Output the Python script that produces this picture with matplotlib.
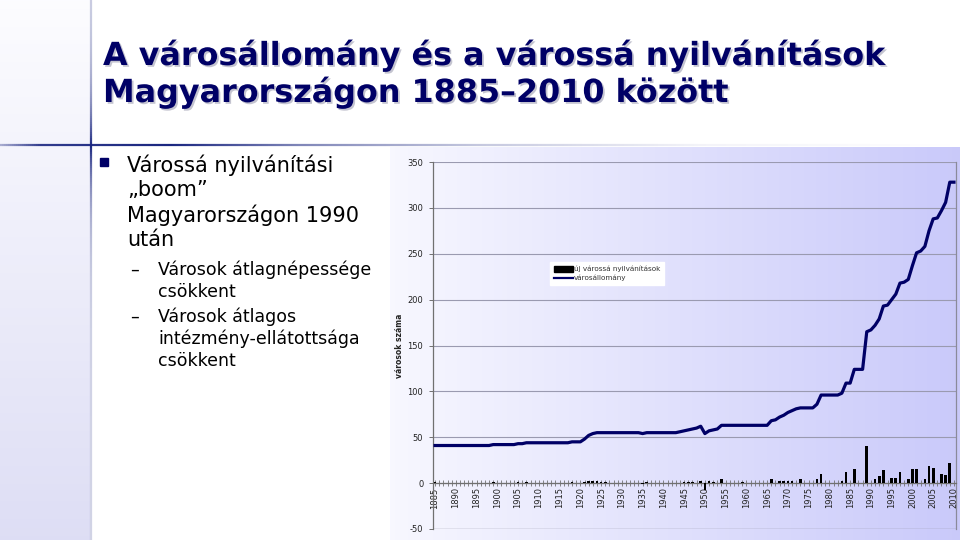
import matplotlib
matplotlib.use("Agg")
import matplotlib.pyplot as plt
import numpy as np
import matplotlib.patheffects as pe
from matplotlib.lines import Line2D
from matplotlib.patches import Patch, Rectangle
from matplotlib.collections import LineCollection

plt.rcParams["axes.unicode_minus"] = False

# ---------------- data ----------------
years = list(range(1885, 2011))

# new town declarations per year (új várossá nyilvánítások)
uj_varosok = [
    1, 0, 0, 0, 0, 0, 0, 0, 0, 0,      # 1885-1894
    0, 0, 0, 0, 1, 0, 0, 0, 0, 0,      # 1895-1904
    1, 0, 1, 0, 0, 0, 0, 0, 0, 0,      # 1905-1914
    0, 0, 0, 1, 0, 0, 1, 2, 2, 2,      # 1915-1924
    1, 1, 0, 0, 0, 0, 0, 0, 0, 0,      # 1925-1934
    -1, 1, 0, 0, 0, 0, 0, 0, 0, 0,     # 1935-1944
    1, 1, 1, 0, 2, -8, 2, 1, 0, 4,     # 1945-1954
    0, 0, 0, 0, 1, 0, 0, 0, 0, 0,      # 1955-1964
    0, 5, 0, 2, 2, 2, 2, 0, 4, 0,      # 1965-1974
    0, 0, 4, 10, 0, 0, 0, 0, 2, 12,    # 1975-1984
    0, 15, 0, 0, 41, 0, 5, 8, 14, 0,   # 1985-1994
    6, 6, 12, 0, 5, 15, 15, 0, 5, 19,  # 1995-2004
    16, 0, 10, 9, 22, 0,               # 2005-2010
]

# town stock (városállomány)
varosallomany = [
    41, 41, 41, 41, 41, 41, 41, 41, 41, 41,            # 1885-1894
    41, 41, 41, 41, 42, 42, 42, 42, 42, 42,            # 1895-1904
    43, 43, 44, 44, 44, 44, 44, 44, 44, 44,            # 1905-1914
    44, 44, 44, 45, 45, 45, 48, 52, 54, 55,            # 1915-1924
    55, 55, 55, 55, 55, 55, 55, 55, 55, 55,            # 1925-1934
    54, 55, 55, 55, 55, 55, 55, 55, 55, 56,            # 1935-1944
    57, 58, 59, 60, 62, 54, 57, 58, 59, 63,            # 1945-1954
    63, 63, 63, 63, 63, 63, 63, 63, 63, 63,            # 1955-1964
    63, 68, 69, 72, 74, 77, 79, 81, 82, 82,            # 1965-1974
    82, 82, 86, 96, 96, 96, 96, 96, 98, 109,           # 1975-1984
    109, 124, 124, 124, 165, 167, 172, 179, 193, 194,  # 1985-1994
    200, 206, 218, 219, 222, 237, 251, 253, 258, 275,  # 1995-2004
    288, 289, 297, 306, 328, 328,                      # 2005-2010
]

y_ticks = [-50, 0, 50, 100, 150, 200, 250, 300, 350]
x_label_years = [1885, 1890, 1895, 1900, 1905, 1910, 1915, 1920, 1925, 1930,
                 1935, 1940, 1945, 1950, 1955, 1960, 1965, 1970, 1975, 1980,
                 1985, 1990, 1995, 2000, 2005, 2010]

legend_labels = ["új várossá nyilvánítások", "városállomány"]
y_axis_title = "városok száma"
title_lines = ["A városállomány és a várossá nyilvánítások",
               "Magyarországon 1885–2010 között"]
bullet_main = ["Várossá nyilvánítási", "„boom”", "Magyarországon 1990", "után"]
sub_bullets = [["Városok átlagnépessége", "csökkent"],
               ["Városok átlagos", "intézmény-ellátottsága", "csökkent"]]

NAVY = "#000066"

# ---------------- figure ----------------
fig = plt.figure(figsize=(9.6, 5.4), dpi=100)
fig.patch.set_facecolor("white")

bg = fig.add_axes([0, 0, 1, 1], zorder=0)
bg.set_xlim(0, 960)
bg.set_ylim(540, 0)
bg.axis("off")

# left strip gradient
t = np.linspace(0, 1, 256)
top_c = np.array([0.99, 0.99, 1.0])
bot_c = np.array([0.87, 0.87, 0.96])
strip = top_c[None, None, :] * (1 - t[:, None, None]) + bot_c[None, None, :] * t[:, None, None]
bg.imshow(strip, extent=[0, 90, 540, 0], aspect="auto", interpolation="bilinear", zorder=0)

# chart area gradient
c0 = np.array([0.97, 0.97, 1.0])
c1 = np.array([0.79, 0.79, 0.98])
chart_bg = c0[None, None, :] * (1 - t[None, :, None]) + c1[None, None, :] * t[None, :, None]
bg.imshow(chart_bg, extent=[390, 960, 540, 147], aspect="auto", interpolation="bilinear", zorder=0)

# decorative vertical line
vy = np.arange(0, 541, 2)
vsegs = [[(91, vy[i]), (91, vy[i + 1])] for i in range(len(vy) - 1)]
va = 0.2 + 0.8 * np.exp(-np.abs(vy[:-1] - 145) / 45.0)
vcols = [(0.1, 0.15, 0.5, a) for a in va]
bg.add_collection(LineCollection(vsegs, colors=vcols, linewidths=1.6, zorder=2))

# decorative horizontal line
hx = np.arange(0, 961, 2)
hsegs = [[(hx[i], 145), (hx[i + 1], 145)] for i in range(len(hx) - 1)]
ha = np.interp(hx[:-1], [0, 40, 170, 300, 480, 700, 960], [0.35, 0.9, 1.0, 0.55, 0.25, 0.05, 0.0])
hcols = [(0.1, 0.15, 0.5, a) for a in ha]
bg.add_collection(LineCollection(hsegs, colors=hcols, linewidths=1.6, zorder=2))

# title
shadow = [pe.withSimplePatchShadow(offset=(1.3, -1.3), shadow_rgbFace="#c4c4d0", alpha=1.0)]
for i, line in enumerate(title_lines):
    bg.text(103, 65 + i * 37, line, fontsize=22.9, fontweight="bold", color=NAVY,
            family="DejaVu Sans", va="baseline", ha="left", path_effects=shadow, zorder=3)

# bullet text
bg.add_patch(Rectangle((100, 158), 8, 8, color=NAVY, zorder=3))
for i, line in enumerate(bullet_main):
    bg.text(127, 171.5 + i * 25, line, fontsize=15, color="black", family="DejaVu Sans",
            va="baseline", ha="left", zorder=3)
sub_base = [[275, 297], [322, 344, 366]]
for grp, bases in zip(sub_bullets, sub_base):
    bg.text(130, bases[0], "–", fontsize=12.5, color="black", family="DejaVu Sans",
            va="baseline", ha="left", zorder=3)
    for line, b in zip(grp, bases):
        bg.text(158, b, line, fontsize=12.5, color="black", family="DejaVu Sans",
                va="baseline", ha="left", zorder=3)

# ---------------- chart ----------------
ax = fig.add_axes([433 / 960, 11 / 540, 523 / 960, 367 / 540], zorder=1)
ax.set_facecolor("none")
ax.set_xlim(1884.5, 2010.5)
ax.set_ylim(-50, 350)

ax.set_yticks(y_ticks)
ax.yaxis.grid(True, color="#9a9ab0", linewidth=0.8)
ax.set_axisbelow(True)

ax.bar(years, uj_varosok, width=0.65, color="black", zorder=3)
ax.plot(years, varosallomany, color=NAVY, linewidth=2.3, zorder=4, solid_joinstyle="round")

ax.axhline(-50, color="#8a8a9a", linewidth=0.9, zorder=2)
ax.spines["top"].set_visible(False)
ax.spines["right"].set_color("#8a8a9a")
ax.spines["right"].set_linewidth(0.9)
ax.spines["left"].set_color("#707070")
ax.spines["left"].set_linewidth(0.9)
ax.spines["bottom"].set_position(("data", 0))
ax.spines["bottom"].set_color("#707070")
ax.spines["bottom"].set_linewidth(0.9)

ax.tick_params(axis="y", direction="out", length=3, width=0.7, colors="#707070",
               labelsize=6, labelcolor="#222222", pad=4)
ax.set_xticks(x_label_years)
ax.set_xticklabels([str(y) for y in x_label_years], rotation=90)
ax.set_xticks(years, minor=True)
ax.tick_params(axis="x", which="both", direction="inout", length=4, width=0.6,
               colors="#707070", labelsize=6, labelcolor="#222222", pad=1)

ax.set_ylabel(y_axis_title, fontsize=5.5, fontweight="bold", color="#222222")
ax.yaxis.set_label_coords(-(433 - 404) / 523, 0.5)

handles = [Patch(facecolor="black", edgecolor="black"),
           Line2D([0], [0], color=NAVY, linewidth=1.6)]
leg = ax.legend(handles, legend_labels, loc="upper left", bbox_to_anchor=(0.224, 0.727),
                fontsize=5.2, frameon=True, fancybox=False, facecolor="white",
                edgecolor="white", framealpha=1.0, borderpad=0.5, handlelength=2.6,
                handleheight=0.9, handletextpad=0.2, labelspacing=0.35, borderaxespad=0)
for txt in leg.get_texts():
    txt.set_color("#333333")

fig.savefig("out.png", dpi=100)
